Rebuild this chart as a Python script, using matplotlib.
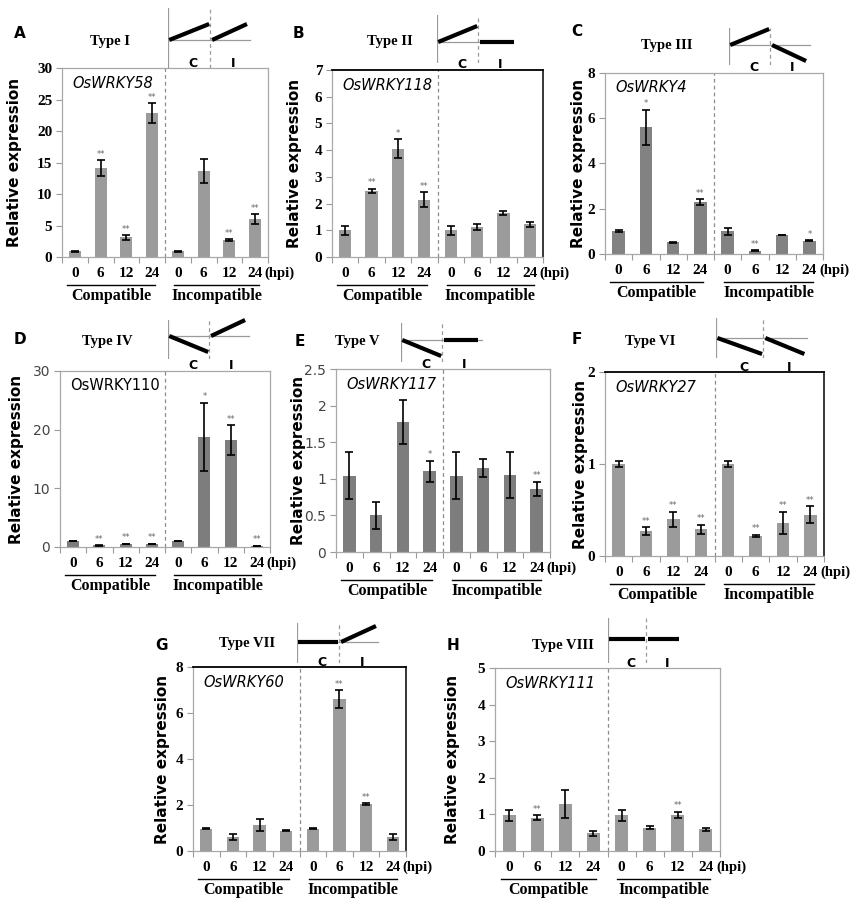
import matplotlib
matplotlib.use('Agg')
import matplotlib.pyplot as plt
from matplotlib.transforms import offset_copy, blended_transform_factory
import numpy as np

W, H, DPI = 856, 913, 100

# ---------------- data ----------------
time_labels = ['0', '6', '12', '24', '0', '6', '12', '24']
group_labels = ['Compatible', 'Incompatible']
panel_letters = ['A', 'B', 'C', 'D', 'E', 'F', 'G', 'H']
type_labels = ['Type I', 'Type II', 'Type III', 'Type IV', 'Type V', 'Type VI', 'Type VII', 'Type VIII']
gene_names = ['OsWRKY58', 'OsWRKY118', 'OsWRKY4', 'OsWRKY110', 'OsWRKY117', 'OsWRKY27', 'OsWRKY60', 'OsWRKY111']

expr_A = [0.9, 14.1, 3.1, 22.8, 0.9, 13.6, 2.7, 6.0]
err_A = [0.1, 1.3, 0.4, 1.6, 0.1, 1.9, 0.1, 0.8]
sig_A = ['', '**', '**', '**', '', '', '**', '**']

expr_B = [1.0, 2.48, 4.05, 2.15, 1.0, 1.12, 1.65, 1.22]
err_B = [0.17, 0.08, 0.35, 0.28, 0.17, 0.1, 0.07, 0.1]
sig_B = ['', '**', '*', '**', '', '', '', '']

expr_C = [1.02, 5.6, 0.51, 2.3, 1.0, 0.15, 0.84, 0.59]
err_C = [0.04, 0.77, 0.02, 0.13, 0.16, 0.02, 0.02, 0.03]
sig_C = ['', '*', '', '**', '', '**', '', '*']

expr_D = [1.0, 0.3, 0.5, 0.5, 1.0, 18.8, 18.2, 0.15]
err_D = [0.05, 0.05, 0.05, 0.05, 0.05, 5.8, 2.6, 0.05]
sig_D = ['', '**', '**', '**', '', '*', '**', '**']

expr_E = [1.04, 0.50, 1.78, 1.10, 1.04, 1.15, 1.05, 0.86]
err_E = [0.32, 0.18, 0.30, 0.15, 0.32, 0.12, 0.31, 0.10]
sig_E = ['', '', '', '*', '', '', '', '**']

expr_F = [1.0, 0.27, 0.40, 0.29, 1.0, 0.22, 0.36, 0.45]
err_F = [0.03, 0.04, 0.08, 0.05, 0.03, 0.01, 0.12, 0.09]
sig_F = ['', '**', '**', '**', '', '**', '**', '**']

expr_G = [0.96, 0.61, 1.14, 0.89, 0.96, 6.6, 2.03, 0.61]
err_G = [0.02, 0.12, 0.25, 0.01, 0.02, 0.4, 0.05, 0.12]
sig_G = ['', '', '', '', '', '**', '**', '']

expr_H = [0.98, 0.91, 1.28, 0.49, 0.98, 0.64, 0.98, 0.59]
err_H = [0.15, 0.07, 0.38, 0.07, 0.15, 0.03, 0.09, 0.05]
sig_H = ['', '**', '', '', '', '', '**', '']

y_max = [30, 7, 8, 30, 2.5, 2, 8, 5]
y_step = [5, 1, 2, 10, 0.5, 1, 2, 1]

# schematic trend (+1 rising, 0 flat, -1 falling) for compatible / incompatible
trend_comp = [1, 1, 1, -1, -1, -1, 0, 0]
trend_incomp = [1, 0, -1, 1, 0, -1, 1, 0]

all_expr = [expr_A, expr_B, expr_C, expr_D, expr_E, expr_F, expr_G, expr_H]
all_err = [err_A, err_B, err_C, err_D, err_E, err_F, err_G, err_H]
all_sig = [sig_A, sig_B, sig_C, sig_D, sig_E, sig_F, sig_G, sig_H]

# ---------------- layout (pixels) ----------------
axes_px = [(62, 68, 268, 257), (332, 70, 543, 257), (605, 73, 823, 254),
           (60, 371, 270, 547), (336, 369, 550, 552), (605, 372, 824, 556),
           (193, 667, 406, 851), (495, 668, 720, 851)]
ylabel_x = [15, 295, 578, 17, 298, 580, 163, 452]
letter_xy = [(20, 33), (298, 33), (577, 32), (20, 339), (300, 342), (577, 340), (162, 645), (453, 645)]
type_xy = [(110, 42), (390, 42), (667, 45), (107, 342), (357, 342), (650, 342), (247, 643), (563, 645)]
# vline x, dashed x, top, bottom, baseline y, baseline right x
sch_px = [(168, 210, 8, 68, 40, 250), (437, 478, 15, 63, 42, 513), (729, 770, 28, 65, 45, 810),
          (168, 209, 320, 359, 336, 249), (401, 442, 323, 362, 340, 482), (716, 763, 318, 358, 338, 807),
          (297, 339, 623, 663, 642, 378), (608, 646, 618, 663, 639, 608)]
bar_color = ['#9b9b9b', '#9b9b9b', '#828282', '#7d7d7d', '#7d7d7d', '#9b9b9b', '#9b9b9b', '#9b9b9b']
dark_frame = [False, True, False, False, False, True, True, False]
bold_serif_ticks = [True, True, True, False, False, True, True, True]
gene_italic = [True, True, True, False, True, True, True, True]

SERIF = 'Liberation Serif'
SANS = 'DejaVu Sans'

fig = plt.figure(figsize=(W / DPI, H / DPI), dpi=DPI)
fig.patch.set_facecolor('white')


def px_rect(l, t, r, b):
    return [l / W, 1 - b / H, (r - l) / W, (b - t) / H]


for i in range(8):
    l, t, r, b = axes_px[i]
    ax = fig.add_axes(px_rect(l, t, r, b))
    x = np.arange(len(time_labels))
    vals = all_expr[i]
    errs = all_err[i]
    ax.bar(x, vals, width=0.46, color=bar_color[i], edgecolor='none', zorder=2)
    ax.errorbar(x, vals, yerr=errs, fmt='none', ecolor='black', elinewidth=1.2,
                capsize=3, capthick=1.2, zorder=3)
    ax.axvline(3.5, color='#8c8c8c', ls=(0, (3, 2.5)), lw=0.9, zorder=1)
    ax.set_xlim(-0.5, 7.5)
    ax.set_ylim(0, y_max[i])
    ax.set_yticks(np.arange(0, y_max[i] + 1e-9, y_step[i]))
    if bold_serif_ticks[i]:
        tfont = dict(family=SERIF, weight='bold', size=11)
        ycol = 'black'
    else:
        tfont = dict(family=SANS, weight='normal', size=10)
        ycol = '#444444'
    ax.set_yticklabels([('%g' % v) for v in ax.get_yticks()], color=ycol, **tfont)
    ax.set_xticks(x)
    ax.set_xticklabels(time_labels, family=SERIF, weight='bold', size=11)
    ax.set_xticks(np.arange(-0.5, 8, 1), minor=True)
    ax.tick_params(axis='x', which='major', length=0, pad=7)
    ax.tick_params(axis='x', which='minor', length=4, color='#9a9a9a', width=0.8)
    ax.tick_params(axis='y', length=4, color='#9a9a9a', width=0.8, pad=3)
    for s in ax.spines.values():
        s.set_color('#a8a8a8')
        s.set_linewidth(0.9)
    if dark_frame[i]:
        ax.spines['top'].set_color('black')
        ax.spines['right'].set_color('black')
        ax.spines['top'].set_linewidth(1.3)
        ax.spines['right'].set_linewidth(1.1)

    # significance marks
    for xi, v, e, s in zip(x, vals, errs, all_sig[i]):
        if s:
            ax.annotate(s, (xi, v + e), xytext=(0, 1), textcoords='offset points',
                        ha='center', va='bottom', fontsize=6, color='#666666')

    # gene name
    ax.annotate(gene_names[i], (0, 1), xycoords='axes fraction', xytext=(10, -15),
                textcoords='offset pixels', ha='left', va='center', fontsize=10.5,
                family=SANS, style='italic' if gene_italic[i] else 'normal')

    # group underlines and labels
    tr_line = offset_copy(ax.get_xaxis_transform(), fig=fig, x=0, y=-28, units='dots')
    tr_text = offset_copy(ax.get_xaxis_transform(), fig=fig, x=0, y=-39, units='dots')
    for (x0, x1), g in zip([(-0.3, 3.1), (3.85, 7.15)], group_labels):
        ax.plot([x0, x1], [0, 0], color='black', lw=1.0, transform=tr_line, clip_on=False)
        ax.text((x0 + x1) / 2, 0, g, transform=tr_text, ha='center', va='center',
                family=SERIF, weight='bold', size=11.5)
    ax.annotate('(hpi)', (7.5, 0), xycoords=ax.get_xaxis_transform(), xytext=(-4, -16),
                textcoords='offset pixels', ha='left', va='center', family=SERIF,
                weight='bold', size=10.5)

    # y label
    fig.text(ylabel_x[i] / W, 1 - ((t + b) / 2) / H, 'Relative expression', rotation=90,
             ha='center', va='center', family=SANS, weight='bold', size=11)
    # panel letter and type
    fig.text(letter_xy[i][0] / W, 1 - letter_xy[i][1] / H, panel_letters[i], ha='center',
             va='center', family=SANS, weight='bold', size=11)
    fig.text(type_xy[i][0] / W, 1 - type_xy[i][1] / H, type_labels[i], ha='center',
             va='center', family=SERIF, weight='bold', size=10.5)

    # schematic inset
    vx, dx, st, sb, sy, sr = sch_px[i]
    half = dx - vx
    rise = 16
    sax = fig.add_axes(px_rect(vx, st, vx + 2.2 * half, sb))
    sax.set_xlim(0, 2.2)
    sax.set_ylim(-(sb - sy), sy - st)
    sax.axis('off')
    sax.plot([0, 0], [-(sb - sy), sy - st], color='#9a9a9a', lw=0.9)
    sax.plot([1, 1], [-(sb - sy), sy - st], color='#9a9a9a', lw=0.9, ls=(0, (3, 2.5)))
    if sr > vx:
        sax.plot([0, (sr - vx) / half], [0, 0], color='#9a9a9a', lw=0.9)
    sax.plot([0.03, 0.98], [0, trend_comp[i] * rise], color='black', lw=3,
             solid_capstyle='butt', clip_on=False)
    sax.plot([1.05, 1.88], [0, trend_incomp[i] * rise], color='black', lw=3,
             solid_capstyle='butt', clip_on=False)
    btr = blended_transform_factory(sax.transData, ax.transAxes)
    btr = offset_copy(btr, fig=fig, x=0, y=5, units='dots')
    sax.text(0.6, 1, 'C', transform=btr, ha='center', va='center', family=SANS,
             weight='bold', size=9, clip_on=False)
    sax.text(1.55, 1, 'I', transform=btr, ha='center', va='center', family=SANS,
             weight='bold', size=9, clip_on=False)

fig.savefig('out.png', dpi=DPI, facecolor='white')
